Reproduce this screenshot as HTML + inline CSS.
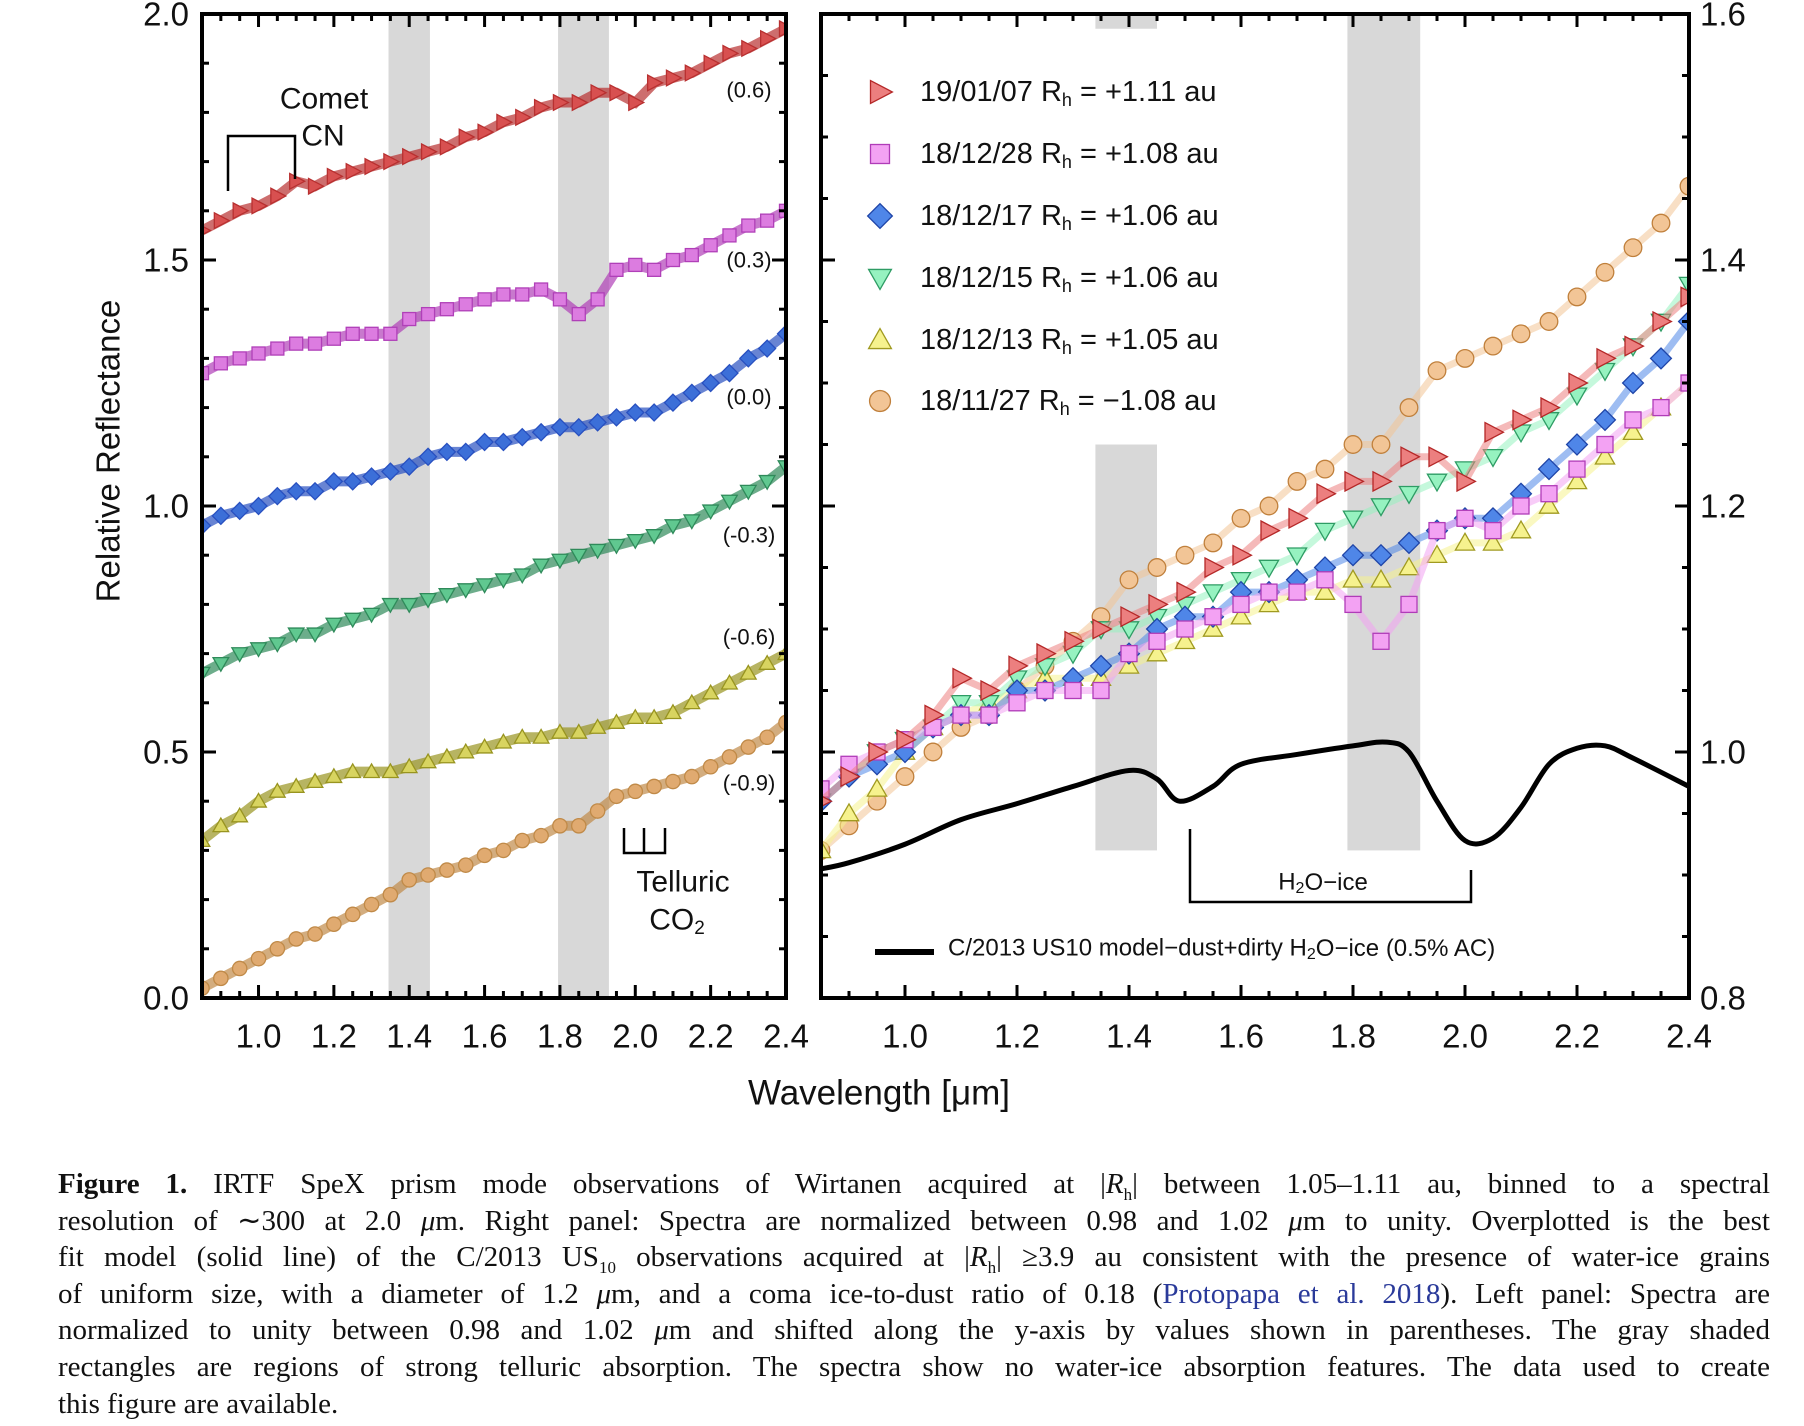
<!DOCTYPE html>
<html><head><meta charset="utf-8">
<style>
html,body{margin:0;padding:0;background:#fff;}
body{width:1804px;height:1426px;position:relative;overflow:hidden;font-family:"Liberation Sans",sans-serif;}
#cap{position:absolute;left:58px;top:1166px;width:1712px;font-family:"Liberation Serif",serif;font-size:29px;color:#111;}
#cap div{height:36.6px;line-height:36.6px;text-align:justify;text-align-last:justify;white-space:nowrap;}
#cap div.last{text-align-last:left;}
#cap a{color:#2a3a9a;text-decoration:none;}
</style></head><body>
<svg id="fig" width="1804" height="1160" style="position:absolute;left:0;top:0" font-family="Liberation Sans, sans-serif"></svg>
<div id="cap">
<div><b>Figure 1.</b> IRTF SpeX prism mode observations of Wirtanen acquired at |<i>R</i><sub style="font-size:17px">h</sub>| between 1.05–1.11 au, binned to a spectral</div>
<div>resolution of ∼300 at 2.0 <i>μ</i>m. Right panel: Spectra are normalized between 0.98 and 1.02 <i>μ</i>m to unity. Overplotted is the best</div>
<div>fit model (solid line) of the C/2013 US<sub style="font-size:17px">10</sub> observations acquired at |<i>R</i><sub style="font-size:17px">h</sub>| ≥3.9 au consistent with the presence of water-ice grains</div>
<div>of uniform size, with a diameter of 1.2 <i>μ</i>m, and a coma ice-to-dust ratio of 0.18 (<a>Protopapa et al. 2018</a>). Left panel: Spectra are</div>
<div>normalized to unity between 0.98 and 1.02 <i>μ</i>m and shifted along the y-axis by values shown in parentheses. The gray shaded</div>
<div>rectangles are regions of strong telluric absorption. The spectra show no water-ice absorption features. The data used to create</div>
<div class="last">this figure are available.</div>
</div>
<script>
const wave=[0.85,0.9,0.95,1.0,1.05,1.1,1.15,1.2,1.25,1.3,1.35,1.4,1.45,1.5,1.55,1.6,1.65,1.7,1.75,1.8,1.85,1.9,1.95,2.0,2.05,2.1,2.15,2.2,2.25,2.3,2.35,2.4];
const red=[0.96,0.98,1.00,1.01,1.03,1.06,1.05,1.07,1.08,1.09,1.10,1.11,1.12,1.13,1.15,1.16,1.18,1.19,1.21,1.22,1.22,1.24,1.24,1.22,1.26,1.27,1.28,1.30,1.32,1.33,1.35,1.37];
const pink=[0.97,0.99,1.00,1.01,1.02,1.03,1.03,1.04,1.05,1.05,1.05,1.08,1.09,1.10,1.11,1.12,1.13,1.13,1.14,1.12,1.09,1.12,1.18,1.19,1.18,1.20,1.21,1.23,1.25,1.27,1.28,1.30];
const blue=[0.96,0.98,0.99,1.00,1.02,1.03,1.03,1.05,1.05,1.06,1.07,1.08,1.10,1.11,1.11,1.13,1.13,1.14,1.15,1.16,1.16,1.17,1.18,1.19,1.19,1.21,1.23,1.25,1.27,1.30,1.32,1.35];
const green=[0.96,0.98,1.00,1.01,1.02,1.04,1.04,1.06,1.07,1.08,1.10,1.10,1.11,1.12,1.13,1.14,1.15,1.16,1.18,1.19,1.20,1.21,1.22,1.23,1.24,1.26,1.27,1.29,1.31,1.33,1.35,1.38];
const yellow=[0.92,0.95,0.97,1.00,1.02,1.03,1.04,1.05,1.06,1.06,1.06,1.07,1.08,1.09,1.10,1.11,1.12,1.13,1.13,1.14,1.14,1.15,1.16,1.17,1.17,1.18,1.20,1.22,1.24,1.26,1.28,1.30];
const orange=[0.92,0.94,0.96,0.98,1.00,1.02,1.03,1.05,1.07,1.09,1.11,1.14,1.15,1.16,1.17,1.19,1.20,1.22,1.23,1.25,1.25,1.28,1.31,1.32,1.33,1.34,1.35,1.37,1.39,1.41,1.43,1.46];
const offsets=[0.6,0.3,0.0,-0.3,-0.6,-0.9];
const offsetLabels=["(0.6)","(0.3)","(0.0)","(-0.3)","(-0.6)","(-0.9)"];
const legendLabels=["19/01/07","18/12/28","18/12/17","18/12/15","18/12/13","18/11/27"];
const legendValues=["+1.11","+1.08","+1.06","+1.06","+1.05","\u22121.08"];
const modelWave=[0.85,0.9,1.0,1.1,1.2,1.3,1.4,1.45,1.49,1.55,1.6,1.7,1.8,1.86,1.9,1.95,2.0,2.05,2.1,2.15,2.2,2.25,2.3,2.4];
const modelVal=[0.905,0.91,0.925,0.945,0.958,0.972,0.985,0.978,0.96,0.972,0.99,0.998,1.005,1.008,1.0,0.96,0.928,0.93,0.955,0.99,1.003,1.005,0.995,0.972];
const leftXTicks=["1.0","1.2","1.4","1.6","1.8","2.0","2.2","2.4"];
const leftYTicks=["0.0","0.5","1.0","1.5","2.0"];
const rightYTicks=["0.8","1.0","1.2","1.4","1.6"];
const telluricBands=[[1.345,1.455],[1.795,1.93]];

const series=[
 {name:'red',d:red,fill:'#ec7f7f',stroke:'#b52828',dark:'#b83030',lf:'#d85050',shape:'tri-right'},
 {name:'pink',d:pink,fill:'#f3a2f3',stroke:'#b03cb8',dark:'#b040b8',lf:'#dc7ce0',shape:'square'},
 {name:'blue',d:blue,fill:'#4f86e8',stroke:'#1f45a8',dark:'#2850c0',lf:'#3c6fd8',shape:'diamond'},
 {name:'green',d:green,fill:'#96f2c0',stroke:'#2e9c64',dark:'#2f8a5a',lf:'#60c890',shape:'tri-down'},
 {name:'yellow',d:yellow,fill:'#f6f28e',stroke:'#a09a20',dark:'#989420',lf:'#d8d460',shape:'tri-up'},
 {name:'orange',d:orange,fill:'#f2c596',stroke:'#c0803c',dark:'#c08a48',lf:'#e0aa70',shape:'circle'}];

const NS='http://www.w3.org/2000/svg';
const svg=document.getElementById('fig');
function el(tag,attrs,parent){const e=document.createElementNS(NS,tag);for(const k in attrs)e.setAttribute(k,attrs[k]);(parent||svg).appendChild(e);return e;}
function txt(s,x,y,size,anchor,parent){const t=el('text',{x:x,y:y,'font-size':size,'text-anchor':anchor||'middle','dominant-baseline':'central',fill:'#111'},parent);t.textContent=s;return t;}

const L={x0:202,x1:786,y0:14,y1:998,xmin:0.85,xmax:2.4,ymin:0,ymax:2.0};
const R={x0:821,x1:1689,y0:14,y1:998,xmin:0.85,xmax:2.4,ymin:0.8,ymax:1.6};
function sx(P,v){return P.x0+(v-P.xmin)/(P.xmax-P.xmin)*(P.x1-P.x0);}
function sy(P,v){return P.y1-(v-P.ymin)/(P.ymax-P.ymin)*(P.y1-P.y0);}

function marker(g,shape,x,y,s,fill,stroke){
 let e;
 if(shape==='circle')e=el('circle',{cx:x,cy:y,r:s*0.55},g);
 else if(shape==='square')e=el('rect',{x:x-s*0.5,y:y-s*0.5,width:s,height:s},g);
 else{let p;
  if(shape==='diamond')p=[[0,-0.65],[0.65,0],[0,0.65],[-0.65,0]];
  else if(shape==='tri-right')p=[[-0.5,-0.6],[0.65,0],[-0.5,0.6]];
  else if(shape==='tri-down')p=[[-0.6,-0.45],[0.6,-0.45],[0,0.6]];
  else p=[[-0.6,0.45],[0.6,0.45],[0,-0.6]];
  e=el('polygon',{points:p.map(q=>(x+q[0]*s)+','+(y+q[1]*s)).join(' ')},g);}
 e.setAttribute('fill',fill);e.setAttribute('stroke',stroke);e.setAttribute('stroke-width',1.3);
 
 
 return e;}

function clip(P,id){const d=el('defs',{});const c=el('clipPath',{id:id},d);el('rect',{x:P.x0,y:P.y0,width:P.x1-P.x0,height:P.y1-P.y0},c);}
clip(L,'cl');clip(R,'cr');

function frame(P,name,yMinor,yMajor,labelsLeft,yLabels){
 const g=el('g',{});
 el('rect',{x:P.x0,y:P.y0,width:P.x1-P.x0,height:P.y1-P.y0,fill:'none',stroke:'#000','stroke-width':4},g);
 for(let v=0.85;v<=2.4001;v+=0.05){const x=sx(P,v);const m=Math.round(v*100);const maj=m%20===0;const l=maj?13:7;
  el('line',{x1:x,x2:x,y1:P.y1,y2:P.y1-l,stroke:'#000','stroke-width':3},g);
  el('line',{x1:x,x2:x,y1:P.y0,y2:P.y0+l,stroke:'#000','stroke-width':3},g);}
 for(let v=P.ymin;v<=P.ymax+1e-6;v+=yMinor){const y=sy(P,v);const r=v/yMajor;const maj=Math.abs(r-Math.round(r))<1e-4;const l=maj?14:7;
  el('line',{x1:P.x0,x2:P.x0+l,y1:y,y2:y,stroke:'#000','stroke-width':3},g);
  el('line',{x1:P.x1,x2:P.x1-l,y1:y,y2:y,stroke:'#000','stroke-width':3},g);}
 leftXTicks.forEach(s=>{const t=txt(s,sx(P,parseFloat(s)),1036,33,'middle',g);});
 yLabels.forEach(s=>{const v=parseFloat(s);const t=labelsLeft?txt(s,189,sy(P,v),33,'end',g):txt(s,1700,sy(P,v),33,'start',g);});
}

function bands(P,clipId,list){const g=el('g',{'clip-path':'url(#'+clipId+')'});
 list.forEach(b=>{el('rect',{x:sx(P,b[0]),y:sy(P,b[2]),width:sx(P,b[1])-sx(P,b[0]),height:sy(P,b[3])-sy(P,b[2]),fill:'#d8d8d8'},g);});}
bands(L,'cl',telluricBands.map(b=>[b[0],b[1],2.0,0]));
bands(R,'cr',[[1.34,1.45,1.25,0.92],[1.34,1.45,1.6,1.588],[1.79,1.92,1.6,0.92]]);

series.forEach((s,i)=>{const g=el('g',{'clip-path':'url(#cl)'});
 const pts=wave.map((w,j)=>[sx(L,w),sy(L,s.d[j]+offsets[i])]);
 el('polyline',{points:pts.map(p=>p.join(',')).join(' '),fill:'none',stroke:s.dark,'stroke-width':10,'stroke-opacity':0.7},g);
 pts.forEach(p=>marker(g,s.shape,p[0],p[1],13,s.lf,s.dark));
 const t=txt(offsetLabels[i],749,[90,260,397,535,637,783][i],22,'middle');
 });

[5,4,3,2,1,0].forEach(i=>{const s=series[i];const g=el('g',{'clip-path':'url(#cr)'});
 const pts=wave.map((w,j)=>[sx(R,w),sy(R,s.d[j])]);
 el('polyline',{points:pts.map(p=>p.join(',')).join(' '),fill:'none',stroke:s.fill,'stroke-width':7,'stroke-opacity':0.55},g);
 pts.forEach(p=>marker(g,s.shape,p[0],p[1],16,s.fill,s.stroke));});

(function(){const pts=modelWave.map((w,j)=>[sx(R,w),sy(R,modelVal[j])]);
 let d='M'+pts[0][0]+','+pts[0][1];
 for(let i=0;i<pts.length-1;i++){const p0=pts[Math.max(0,i-1)],p1=pts[i],p2=pts[i+1],p3=pts[Math.min(pts.length-1,i+2)];
  d+=' C'+(p1[0]+(p2[0]-p0[0])/6)+','+(p1[1]+(p2[1]-p0[1])/6)+' '+(p2[0]-(p3[0]-p1[0])/6)+','+(p2[1]-(p3[1]-p1[1])/6)+' '+p2[0]+','+p2[1];}
 el('path',{d:d,fill:'none',stroke:'#000','stroke-width':5,'clip-path':'url(#cr)'});})();

frame(L,'left',0.1,0.5,true,leftYTicks);
frame(R,'right',0.05,0.2,false,rightYTicks);

let a=el('g',{});
el('path',{d:'M228,191 V136 H295 V179',fill:'none',stroke:'#000','stroke-width':2.5},a);
txt('Comet',324,99,30,'middle',a);txt('CN',323,136,30,'middle',a);
a=el('g',{});
el('path',{d:'M624,828 V853 H665 V828 M644,853 V828',fill:'none',stroke:'#000','stroke-width':2.5},a);
txt('Telluric',683,882,30,'middle',a);
let t=txt('CO',677,920,30,'middle',a);let sb=el('tspan',{'font-size':19,dy:8},t);sb.textContent='2';
a=el('g',{});
el('path',{d:'M1190,829 V902 H1471 V870',fill:'none',stroke:'#000','stroke-width':2.5},a);
t=el('text',{x:1323,y:882,'font-size':24,'text-anchor':'middle','dominant-baseline':'central',fill:'#111'},a);
t.innerHTML='H<tspan font-size="16" dy="6">2</tspan><tspan dy="-6">O\u2212ice</tspan>';

const lg=el('g',{});
legendLabels.forEach((s,i)=>{const y=[92,154,216,278,340,401][i];const sr=series[i];
 const row=el('g',{},lg);
 marker(row,sr.shape,880,y,19,sr.fill,sr.stroke);
 const tt=el('text',{x:920,y:y,'font-size':29,'dominant-baseline':'central',fill:'#111'},row);
 tt.innerHTML=s+' R<tspan font-size="18" dy="8">h</tspan><tspan dy="-8"> = '+legendValues[i]+' au</tspan>';});
const ml=el('g',{},lg);
el('line',{x1:875,x2:934,y1:952,y2:952,stroke:'#000','stroke-width':6},ml);
t=el('text',{x:948,y:948,'font-size':24,'dominant-baseline':'central',fill:'#111'},ml);
t.innerHTML='C/2013 US10 model\u2212dust+dirty H<tspan font-size="16" dy="6">2</tspan><tspan dy="-6">O\u2212ice (0.5% AC)</tspan>';

t=txt('Relative Reflectance',108,451,33,'middle');t.setAttribute('transform','rotate(-90 108 451)');

t=txt('Wavelength [\u03bcm]',879,1093,35,'middle');

</script>
</body></html>
